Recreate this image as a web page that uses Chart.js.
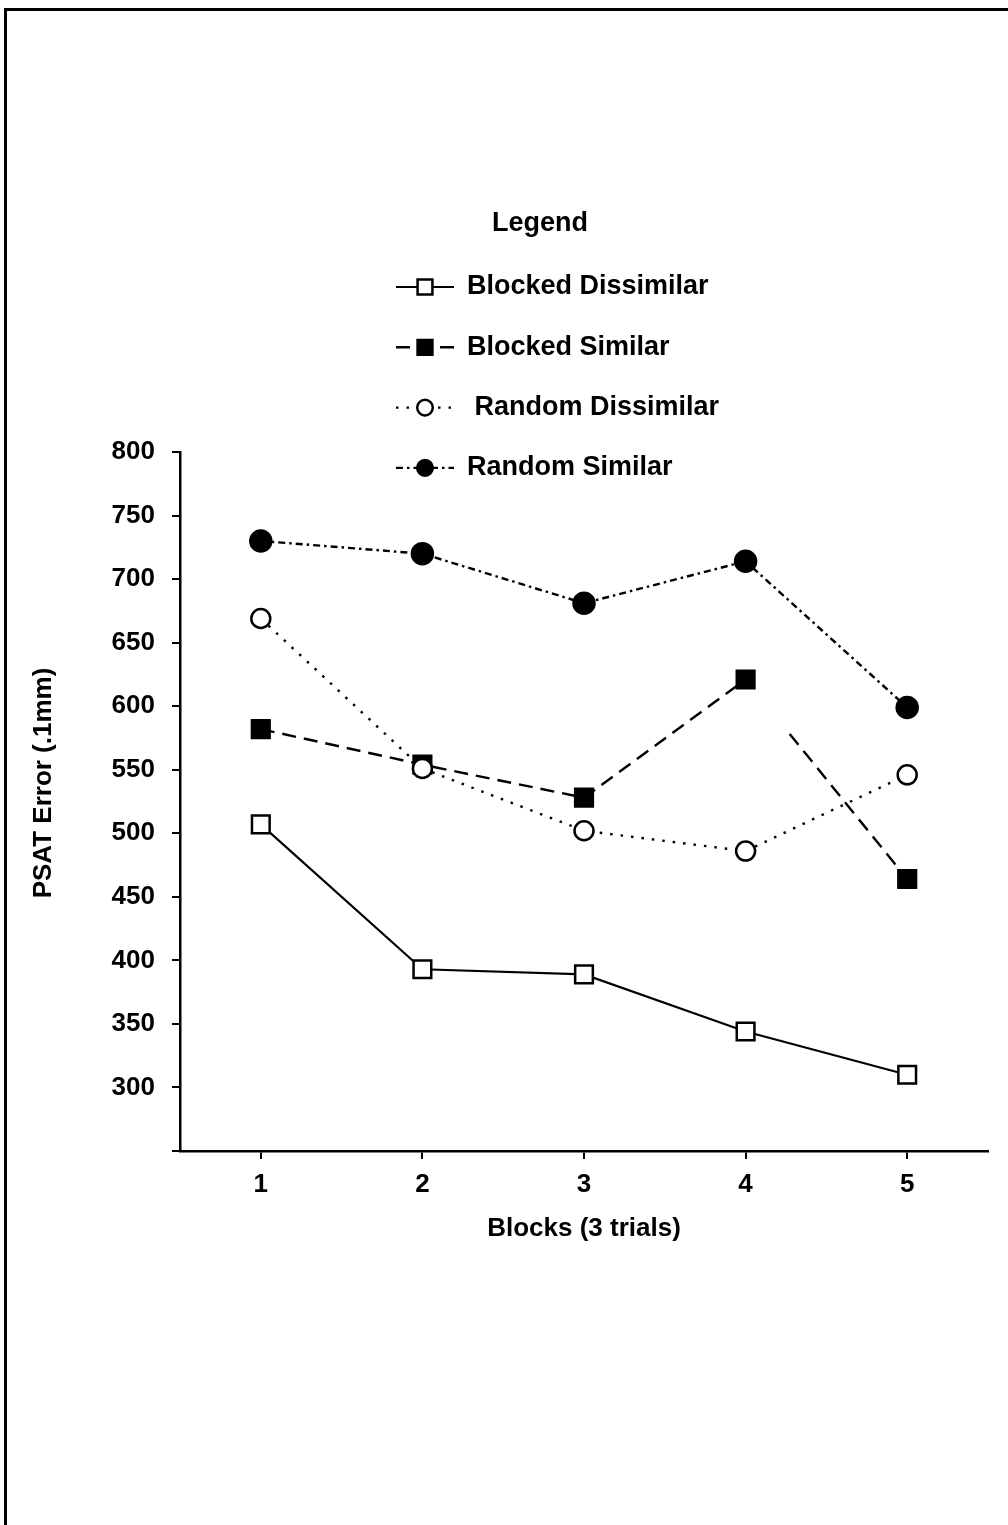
<!DOCTYPE html>
<html>
<head>
<meta charset="utf-8">
<script src="https://cdn.jsdelivr.net/npm/chart.js@4/dist/chart.umd.min.js"></script>
<style>
  html, body { margin: 0; padding: 0; background: #fff; }
  #wrap { position: relative; width: 1008px; height: 1525px; overflow: hidden; }
  #frame { position: absolute; left: 4px; top: 8px; right: -10px; bottom: -10px;
           border-top: 3px solid #000; border-left: 3px solid #000; pointer-events: none; }
  canvas { position: absolute; left: 0; top: 0; }
</style>
</head>
<body>
<div id="wrap">
  <canvas id="chart" width="1008" height="1525"></canvas>
  <div id="frame"></div>
</div>
<script>
// data
const blocks = ['1', '2', '3', '4', '5'];
const seriesNames = ['Blocked Dissimilar', 'Blocked Similar', ' Random Dissimilar', 'Random Similar'];
const blockedDissimilar = [507, 393, 389, 344, 310];
const blockedSimilar = [582, 554, 528, 621, 464];
const randomDissimilar = [669, 551, 502, 486, 546];
const randomSimilar = [730, 720, 681, 714, 599];
const yMin = 250, yMax = 800, yStep = 50;
const yTitle = 'PSAT Error (.1mm)';

const FONT = '"Liberation Sans", Arial, Helvetica, sans-serif';
const black = '#000';

function drawMarker(ctx, style, x, y, r, fill) {
    ctx.beginPath();
    if (style === 'rect') {
        const s = Math.SQRT1_2 * r;
        ctx.rect(x - s, y - s, 2 * s, 2 * s);
    } else {
        ctx.arc(x, y, r, 0, Math.PI * 2);
    }
    ctx.fillStyle = fill;
    ctx.fill();
    ctx.lineWidth = 2.5;
    ctx.strokeStyle = black;
    ctx.stroke();
}

// legend sits partly above the plot, like in the original;
// the y title is drawn here too since it sits a bit above the axis centre
const legendBox = {
    id: 'legendBox',
    afterDraw(chart) {
        const ctx = chart.ctx;
        ctx.save();
        ctx.fillStyle = black;
        ctx.textBaseline = 'middle';
        ctx.textAlign = 'center';

        ctx.font = 'bold 26px ' + FONT;
        ctx.save();
        ctx.translate(44, 783);
        ctx.rotate(-Math.PI / 2);
        ctx.fillText(yTitle, 0, 0);
        ctx.restore();

        ctx.font = 'bold 27px ' + FONT;
        ctx.fillText('Legend', 540, 224);
        ctx.textAlign = 'left';
        chart.data.datasets.forEach((ds, i) => {
            const y = 287 + i * 60.3;
            ctx.strokeStyle = black;
            ctx.lineWidth = ds.borderWidth;
            ctx.setLineDash(ds.borderDash || []);
            ctx.beginPath();
            ctx.moveTo(396, y);
            ctx.lineTo(454, y);
            ctx.stroke();
            ctx.setLineDash([]);
            const r = ds.pointStyle === 'rect' ? 10.5 : 7.8;
            drawMarker(ctx, ds.pointStyle, 425, y, r, ds.pointBackgroundColor);
            ctx.fillStyle = black;
            ctx.fillText(ds.label, 467, y);
        });
        ctx.restore();
    }
};

function series(label, data, dash, style, filled, radius, width, order) {
    return {
        label: label,
        data: data,
        order: order,
        borderColor: black,
        borderWidth: width,
        borderDash: dash,
        pointStyle: style,
        pointRadius: radius,
        pointBorderWidth: 2.5,
        pointBorderColor: black,
        pointBackgroundColor: filled ? black : '#fff',
        tension: 0,
        fill: false
    };
}

const datasets = [
    series(seriesNames[0], blockedDissimilar, [], 'rect', false, 12.5, 2.2, 1),
    series(seriesNames[1], blockedSimilar, [14, 8], 'rect', true, 12.5, 2.4, 2),
    series(seriesNames[2], randomDissimilar, [2.5, 8], 'circle', false, 9.5, 2.4, 0),
    series(seriesNames[3], randomSimilar, [7, 4, 2.5, 4], 'circle', true, 10.5, 2.4, 1)
];
// the scan loses the first part of the Blocked Similar line between blocks 4 and 5
datasets[1].segment = {
    borderDash: c => c.p0DataIndex === 3
        ? [0, 70, 14, 8, 14, 8, 14, 8, 14, 8, 14, 8, 14, 8, 14, 8, 14, 8, 400]
        : undefined
};

new Chart(document.getElementById('chart'), {
    type: 'line',
    data: { labels: blocks, datasets: datasets },
    plugins: [legendBox],
    options: {
        responsive: false,
        animation: false,
        devicePixelRatio: 1,
        layout: { padding: { top: 452, left: 0, right: 20, bottom: 274 } },
        plugins: { legend: { display: false }, tooltip: { enabled: false } },
        scales: {
            x: {
                type: 'category',
                offset: true,
                grid: { drawOnChartArea: false, drawTicks: true, tickLength: 8, offset: false, color: black, lineWidth: 2 },
                border: { display: true, color: black, width: 2.5 },
                ticks: { color: black, padding: 10, font: { family: FONT, size: 26, weight: 'bold' } },
                title: {
                    display: true, text: 'Blocks (3 trials)', color: black,
                    padding: { top: 0, bottom: 7 },
                    font: { family: FONT, size: 26, weight: 'bold' }
                },
                afterFit: s => { s.height = 100; }
            },
            y: {
                min: yMin,
                max: yMax,
                grid: { drawOnChartArea: false, drawTicks: true, tickLength: 8, color: black, lineWidth: 2 },
                border: { display: true, color: black, width: 2.5 },
                ticks: {
                    stepSize: yStep,
                    color: black,
                    padding: 17,
                    font: { family: FONT, size: 26, weight: 'bold' },
                    callback: v => (v === yMin ? '' : v)
                },
                title: { display: false, text: yTitle },
                afterFit: s => { s.width = 180; }
            }
        }
    }
});
</script>
</body>
</html>
